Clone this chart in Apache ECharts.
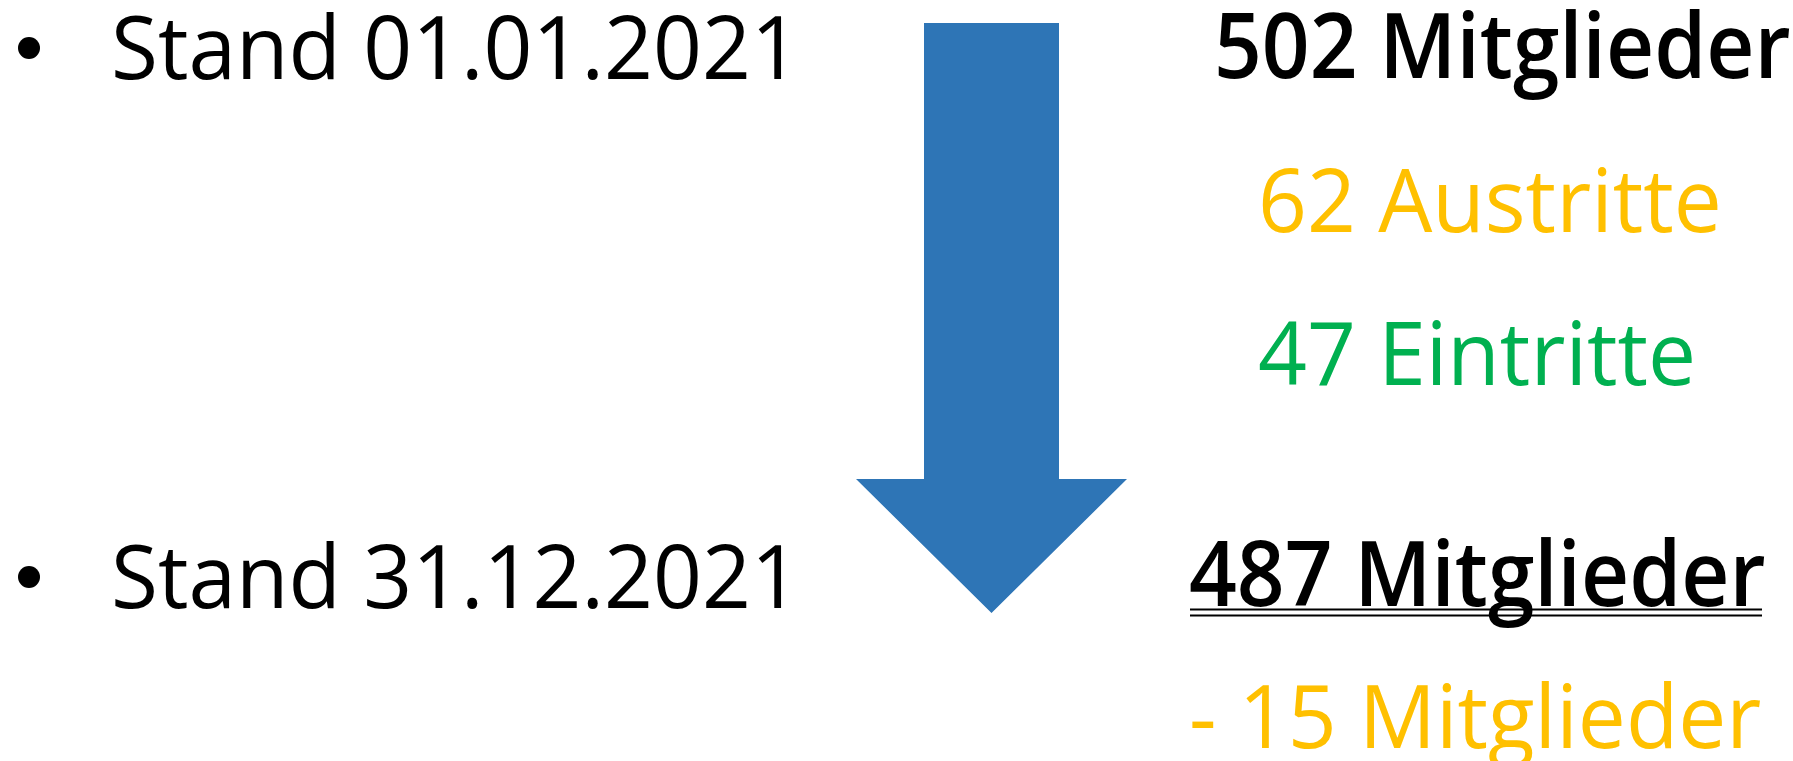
<!DOCTYPE html>
<html>
<head>
<meta charset="utf-8">
<script src="https://cdn.jsdelivr.net/npm/echarts@6/dist/echarts.min.js"></script>
<style>
html, body { margin: 0; padding: 0; background: #fff; }
#myChart { width: 1793px; height: 761px; }
</style>
</head>
<body>
<div id="myChart"></div>
<script>
// Daten
var dates = ['01.01.2021', '31.12.2021'];
var members = [502, 487];
var exits = 62;
var entries = 47;
var change = members[1] - members[0];

var font = '"Open Sans", sans-serif';
var black = '#000000', yellow = '#FFC000', green = '#00B050', blue = '#2E75B6';

// Text mit Position am linken Rand, vertikal mittig an y
function txt(text, x, y, color, bold) {
    return {
        type: 'text',
        x: x, y: y,
        scaleX: bold ? 0.93 : 0.973,
        style: {
            text: text, x: 0, y: 0,
            fill: color,
            font: (bold ? '600 90px ' : '88px ') + font,
            textAlign: 'left',
            textVerticalAlign: 'middle'
        }
    };
}

function bullet(x, y) {
    return { type: 'circle', shape: { cx: x, cy: y, r: 11 }, style: { fill: black } };
}

let myChart = echarts.init(document.getElementById('myChart'));
myChart.setOption({
    animation: false,
    graphic: [
        bullet(29, 48),
        txt('Stand ' + dates[0], 111, 54, black, false),
        bullet(29, 577),
        txt('Stand ' + dates[1], 111, 583, black, false),
        // Pfeil
        {
            type: 'polygon',
            shape: { points: [[924, 23], [1059, 23], [1059, 479], [1127, 479], [991.5, 613], [856, 479], [924, 479]] },
            style: { fill: blue }
        },
        txt(members[0] + ' Mitglieder', 1214, 52, black, true),
        txt(exits + ' Austritte', 1258, 207, yellow, false),
        txt(entries + ' Eintritte', 1258, 360, green, false),
        txt(members[1] + ' Mitglieder', 1189, 580, black, true),
        // doppelte Unterstreichung
        { type: 'line', shape: { x1: 1190, y1: 609.5, x2: 1762, y2: 609.5 }, style: { stroke: black, lineWidth: 2 } },
        { type: 'line', shape: { x1: 1190, y1: 615.5, x2: 1762, y2: 615.5 }, style: { stroke: black, lineWidth: 2 } },
        txt('- ' + Math.abs(change) + ' Mitglieder', 1189, 723, yellow, false)
    ]
});
</script>
</body>
</html>
